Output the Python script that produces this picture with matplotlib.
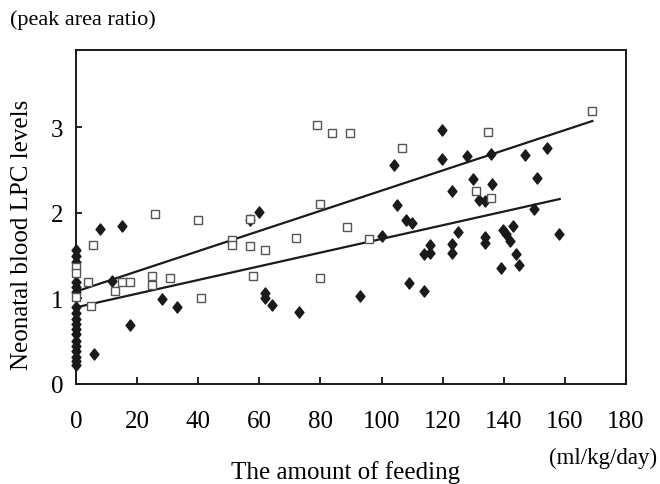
import numpy as np
import matplotlib
matplotlib.use("Agg")
import matplotlib.pyplot as plt
from matplotlib.path import Path

plt.rcParams['font.family'] = ['Liberation Serif', 'DejaVu Serif']

# Open squares (x = amount of feeding, y = peak area ratio)
sq_x = [0, 0, 0, 3.8, 4.8, 5.7, 12.8, 14.9, 17.7, 25, 25, 25.8, 30.7,
        39.8, 40.9, 50.9, 50.9, 56.9, 57, 57.8, 62, 71.9, 78.9, 79.8, 80,
        83.9, 88.8, 89.8, 95.9, 106.8, 130.8, 134.9, 135.9, 169]
sq_y = [1.37, 1.30, 1.02, 1.19, 0.91, 1.62, 1.09, 1.19, 1.19, 1.26, 1.155,
        1.99, 1.24, 1.91, 1.0, 1.68, 1.62, 1.61, 1.93, 1.26, 1.57, 1.71,
        3.03, 2.1, 1.24, 2.93, 1.83, 2.93, 1.69, 2.76, 2.25, 2.94, 2.17, 3.19]

# Filled diamonds
dm_x = [0] * 18 + [
    5.9, 7.8, 11.9, 14.9, 17.7, 28, 32.9, 56.9, 60, 62, 62, 64, 72.9, 92.9,
    100, 104, 104.9, 107.9, 109.9, 109, 113.9, 113.9, 116, 116, 119.9, 119.9,
    123, 123, 123, 125, 128, 130, 131.9, 134, 134, 134, 135.9, 136, 139,
    139.7, 140.8, 141.9, 143, 143.9, 145, 146.9, 149.9, 151, 154, 158]
dm_y = [1.56, 1.50, 1.42, 1.19, 1.13, 1.07, 0.90, 0.83, 0.76, 0.70, 0.64,
        0.58, 0.50, 0.44, 0.38, 0.32, 0.27, 0.22] + [
    0.35, 1.81, 1.2, 1.84, 0.69, 0.99, 0.90, 1.92, 2.01, 1.06, 1.0, 0.925,
    0.84, 1.03, 1.73, 2.56, 2.09, 1.91, 1.875, 1.18, 1.085, 1.52, 1.53, 1.62,
    2.97, 2.63, 2.25, 1.63, 1.525, 1.77, 2.66, 2.39, 2.15, 2.14, 1.72, 1.645,
    2.68, 2.33, 1.35, 1.80, 1.75, 1.67, 1.85, 1.52, 1.39, 2.67, 2.04, 2.4,
    2.76, 1.75]

# trend lines (intercept, slope, x end)
sq_fit = (1.08, 0.01178, 169)
dm_fit = (0.895, 0.00799, 158.3)

x_ticks = list(range(0, 181, 20))
y_ticks = [0, 1, 2, 3]

diamond = Path([(0, 1), (0.8, 0), (0, -1), (-0.8, 0), (0, 1)],
               [Path.MOVETO, Path.LINETO, Path.LINETO, Path.LINETO, Path.CLOSEPOLY])

fig = plt.figure(figsize=(6.6, 4.85), dpi=100)
ax = fig.add_axes([76 / 660, 1 - 385 / 485, 550 / 660, 334 / 485])

for b, m, xe in (sq_fit, dm_fit):
    xs = np.array([0, xe])
    ax.plot(xs, b + m * xs, color='#1a1a1a', lw=1.6, zorder=2)

ax.plot(dm_x, dm_y, ls='none', marker=diamond, ms=8, color='#1a1a1a',
        mec='#1a1a1a', zorder=3, clip_on=False)
ax.plot(sq_x, sq_y, ls='none', marker='s', ms=5.5, mfc='white',
        mec='#555555', mew=1.0, zorder=4, clip_on=False)

ax.set_xlim(0, 180)
ax.set_ylim(0, 3.9)
ax.set_xticks(x_ticks)
ax.set_yticks(y_ticks)
ax.tick_params(axis='x', direction='in', length=5, width=1.2, pad=19, labelsize=18)
ax.tick_params(axis='y', direction='in', length=4, width=1.2, pad=9, labelsize=18)
for s in ax.spines.values():
    s.set_linewidth(1.4)
    s.set_color('#1a1a1a')

fig.text(10 / 660, 1 - 20 / 485, '(peak area ratio)', fontsize=16, va='center', ha='left')
fig.text(22 / 660, 1 - 235 / 485, 'Neonatal blood LPC levels', fontsize=18,
         rotation=90, va='center', ha='center')
fig.text(603 / 660, 1 - 458 / 485, '(ml/kg/day)', fontsize=16.5, va='center', ha='center')
fig.text(346 / 660, 1 - 473 / 485, 'The amount of feeding', fontsize=18,
         va='center', ha='center')

fig.savefig('out.png', dpi=100)
